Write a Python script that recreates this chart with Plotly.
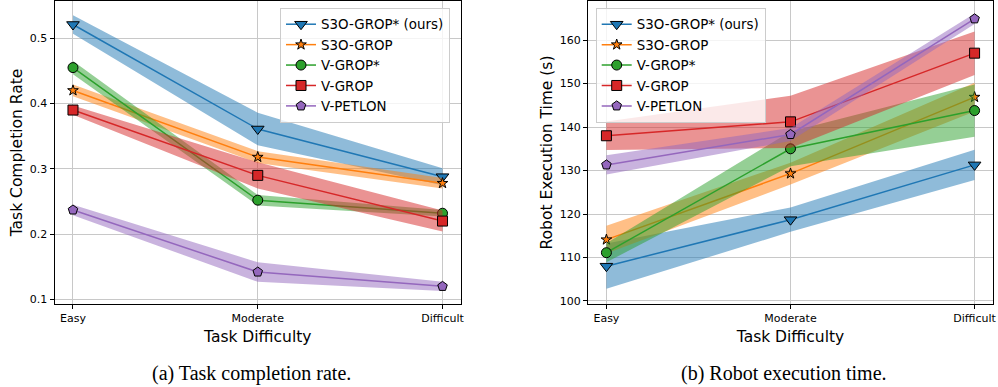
import plotly.graph_objects as go

# ---------------- data ----------------
categories = ["Easy", "Moderate", "Difficult"]
series_names = ["S3O-GROP* (ours)", "S3O-GROP", "V-GROP*", "V-GROP", "V-PETLON"]

# Task completion rate (mean, half-width of band)
rate_s3o_star = [0.521, 0.361, 0.288]
rate_s3o_star_err = [0.014, 0.025, 0.013]
rate_s3o = [0.420, 0.318, 0.278]
rate_s3o_err = [0.009, 0.009, 0.008]
rate_vgrop_star = [0.455, 0.252, 0.232]
rate_vgrop_star_err = [0.010, 0.008, 0.005]
rate_vgrop = [0.390, 0.290, 0.220]
rate_vgrop_err = [0.007, 0.020, 0.016]
rate_vpetlon = [0.237, 0.142, 0.120]
rate_vpetlon_err = [0.008, 0.015, 0.007]

# Robot execution time in seconds (mean, half-width of band)
time_s3o_star = [108.0, 118.7, 131.3]
time_s3o_star_err = [5.2, 2.8, 3.5]
time_s3o = [114.1, 129.3, 146.9]
time_s3o_err = [3.2, 2.5, 3.3]
time_vgrop_star = [111.1, 135.0, 143.8]
time_vgrop_star_err = [2.2, 4.0, 6.0]
time_vgrop = [138.0, 141.2, 157.0]
time_vgrop_err = [3.3, 6.0, 5.0]
time_vpetlon = [131.3, 138.3, 164.9]
time_vpetlon_err = [2.2, 1.5, 1.2]

rate_ticks = [0.1, 0.2, 0.3, 0.4, 0.5]
time_ticks = [100, 110, 120, 130, 140, 150, 160]

# ---------------- styles ----------------
colors = ["#1f77b4", "#ff7f0e", "#2ca02c", "#d62728", "#9467bd"]
fills = ["rgba(31,119,180,0.5)", "rgba(255,127,14,0.5)", "rgba(44,160,44,0.5)",
         "rgba(214,39,40,0.5)", "rgba(148,103,189,0.5)"]
symbols = ["triangle-down", "star", "circle", "square", "pentagon"]
msizes = [11, 8, 10, 10, 10]

W, H = 998, 387
ML, MR, MT, MB = 54, 5, 1, 83
PW, PH = W - ML - MR, H - MT - MB


def px(x):
    return (x - ML) / PW


def py(y):
    return (H - MB - y) / PH


def clamp(v):
    return min(1.0, max(0.0, v))


FONT = "DejaVu Sans"

fig = go.Figure()

rate_data = [(rate_s3o_star, rate_s3o_star_err), (rate_s3o, rate_s3o_err),
             (rate_vgrop_star, rate_vgrop_star_err), (rate_vgrop, rate_vgrop_err),
             (rate_vpetlon, rate_vpetlon_err)]
time_data = [(time_s3o_star, time_s3o_star_err), (time_s3o, time_s3o_err),
             (time_vgrop_star, time_vgrop_star_err), (time_vgrop, time_vgrop_err),
             (time_vpetlon, time_vpetlon_err)]

xi = list(range(len(categories)))

for panel, (data, xa, ya, leg) in enumerate([(rate_data, "x", "y", "legend"),
                                              (time_data, "x2", "y2", "legend2")]):
    for i, (mean, err) in enumerate(data):
        upper = [m + e for m, e in zip(mean, err)]
        lower = [m - e for m, e in zip(mean, err)]
        fig.add_trace(go.Scatter(
            x=xi + xi[::-1], y=upper + lower[::-1], fill="toself",
            fillcolor=fills[i], line=dict(width=0), mode="lines",
            showlegend=False, hoverinfo="skip", xaxis=xa, yaxis=ya))
        fig.add_trace(go.Scatter(
            x=xi, y=mean, mode="lines+markers", name=series_names[i],
            line=dict(color=colors[i], width=1.5),
            marker=dict(symbol=symbols[i], size=msizes[i], color=colors[i],
                        line=dict(color="black", width=1)),
            xaxis=xa, yaxis=ya, legend=leg))

axis_common = dict(showline=True, linecolor="black", linewidth=1, mirror=True,
                   ticks="outside", ticklen=4, tickcolor="black", tickwidth=1,
                   showgrid=True, gridcolor="#c8c8c8", gridwidth=1, zeroline=False,
                   automargin=False,
                   tickfont=dict(family=FONT, size=11, color="black"))

fig.update_layout(
    width=W, height=H, margin=dict(l=ML, r=MR, t=MT, b=MB, autoexpand=False),
    plot_bgcolor="white", paper_bgcolor="white",
    font=dict(family=FONT, color="black"),
    xaxis=dict(domain=[clamp(px(54.5)), clamp(px(461))], range=[-0.1, 2.1],
               tickvals=xi, ticktext=categories,
               title=dict(text="Task Difficulty", font=dict(size=15.5), standoff=6),
               **axis_common),
    yaxis=dict(domain=[clamp(py(304)), clamp(py(1))], range=[0.093, 0.557],
               tickvals=rate_ticks, ticktext=[f"{v:.1f}" for v in rate_ticks],
               title=dict(text="Task Completion Rate", font=dict(size=15.5), standoff=3),
               **axis_common),
    xaxis2=dict(domain=[clamp(px(588)), clamp(px(993.3))], range=[-0.1, 2.1],
                tickvals=xi, ticktext=categories, anchor="y2",
                title=dict(text="Task Difficulty", font=dict(size=15.5), standoff=6),
                **axis_common),
    yaxis2=dict(domain=[clamp(py(304)), clamp(py(1))], range=[99.3, 169.0], anchor="x2",
                tickvals=time_ticks, ticktext=[str(v) for v in time_ticks],
                title=dict(text="Robot Execution Time (s)", font=dict(size=15.5), standoff=3),
                **axis_common),
    legend=dict(x=px(280), y=py(8), xanchor="left", yanchor="top",
                bgcolor="rgba(255,255,255,0.8)", bordercolor="#cccccc", borderwidth=1,
                font=dict(family=FONT, size=13.4)),
    legend2=dict(x=px(595.7), y=py(8), xanchor="left", yanchor="top",
                 bgcolor="rgba(255,255,255,0.8)", bordercolor="#cccccc", borderwidth=1,
                 font=dict(family=FONT, size=13.4)),
    annotations=[
        dict(text="(a) Task completion rate.", x=px(251), y=py(373), xref="paper", yref="paper",
             showarrow=False, xanchor="center", yanchor="middle",
             font=dict(family="Liberation Serif", size=20, color="black")),
        dict(text="(b) Robot execution time.", x=px(784), y=py(373), xref="paper", yref="paper",
             showarrow=False, xanchor="center", yanchor="middle",
             font=dict(family="Liberation Serif", size=20, color="black")),
    ],
)

fig.write_html(
    "out.html",
    config={"displayModeBar": False},
    post_script="document.body.style.margin='0';document.body.style.padding='0';"
                "document.body.style.overflow='hidden';",
)
